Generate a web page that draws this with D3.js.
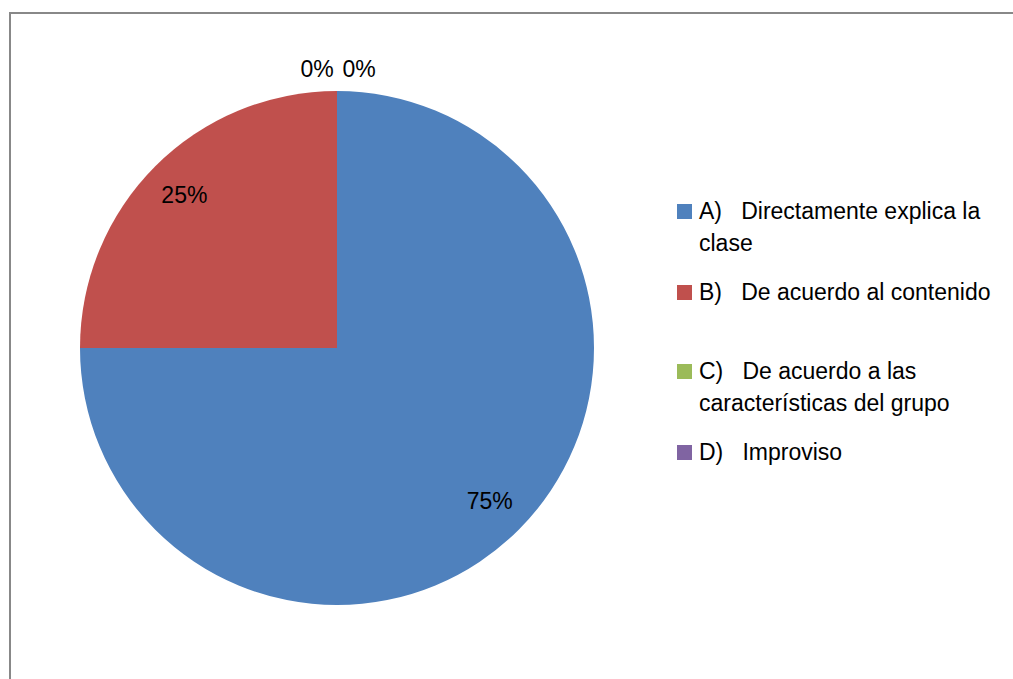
<!DOCTYPE html>
<html>
<head>
<meta charset="utf-8">
<script src="https://cdnjs.cloudflare.com/ajax/libs/d3/7.8.5/d3.min.js"></script>
<style>
  body { margin: 0; background: #fff; }
  svg text { font-family: "Liberation Sans", Arial, sans-serif; fill: #000; white-space: pre; }
</style>
</head>
<body>
<svg id="chart" width="1013" height="679"></svg>
<script>
// datos del gráfico
const categorias = [
  ["A)   Directamente explica la", "clase"],
  ["B)   De acuerdo al contenido"],
  ["C)   De acuerdo a las", "características del grupo"],
  ["D)   Improviso"]
];
const valores = [75, 25, 0, 0];
const colores = ["#4F81BD", "#C0504D", "#9BBB59", "#8064A2"];
const etiquetas = ["75%", "25%", "0%", "0%"];

const svg = d3.select("#chart");
const fontSize = 23;

// marco del área del gráfico
svg.append("path")
   .attr("d", "M10,679 V13 H1013")
   .attr("fill", "none")
   .attr("stroke", "#888")
   .attr("stroke-width", 2);

const cx = 337, cy = 348, radius = 257;

const pie = d3.pie().sort(null).value(d => d);
const arcs = pie(valores);

const arc = d3.arc().innerRadius(0).outerRadius(radius);
const labelArc = d3.arc().innerRadius(radius * 0.84).outerRadius(radius * 0.84);
const outerArc = d3.arc().innerRadius(radius + 22).outerRadius(radius + 22);

const g = svg.append("g").attr("transform", `translate(${cx},${cy})`);

g.selectAll("path.slice")
 .data(arcs)
 .enter()
 .append("path")
 .attr("class", "slice")
 .attr("d", arc)
 .attr("fill", (d, i) => colores[i]);

// las etiquetas de 0% van fuera del círculo, separadas
const offsetCero = [0, 0, -20, 22];
g.selectAll("text.pct")
 .data(arcs)
 .enter()
 .append("text")
 .attr("class", "pct")
 .attr("transform", (d, i) => {
   const c = d.value === 0 ? outerArc.centroid(d) : labelArc.centroid(d);
   return `translate(${c[0] + offsetCero[i]},${c[1]})`;
 })
 .attr("dy", "0.35em")
 .attr("text-anchor", "middle")
 .attr("font-size", fontSize)
 .text((d, i) => etiquetas[i]);

// leyenda
const legendY = [211, 292, 371, 452];
const lineH = 32;
const legend = svg.append("g");
categorias.forEach((lines, i) => {
  legend.append("rect")
        .attr("x", 677)
        .attr("y", legendY[i] - 7)
        .attr("width", 15)
        .attr("height", 15)
        .attr("fill", colores[i]);
  const t = legend.append("text")
        .attr("x", 699)
        .attr("y", legendY[i])
        .attr("font-size", fontSize);
  lines.forEach((l, j) => {
    t.append("tspan")
     .attr("x", 699)
     .attr("dy", j === 0 ? "0.35em" : lineH)
     .text(l);
  });
});
</script>
</body>
</html>
